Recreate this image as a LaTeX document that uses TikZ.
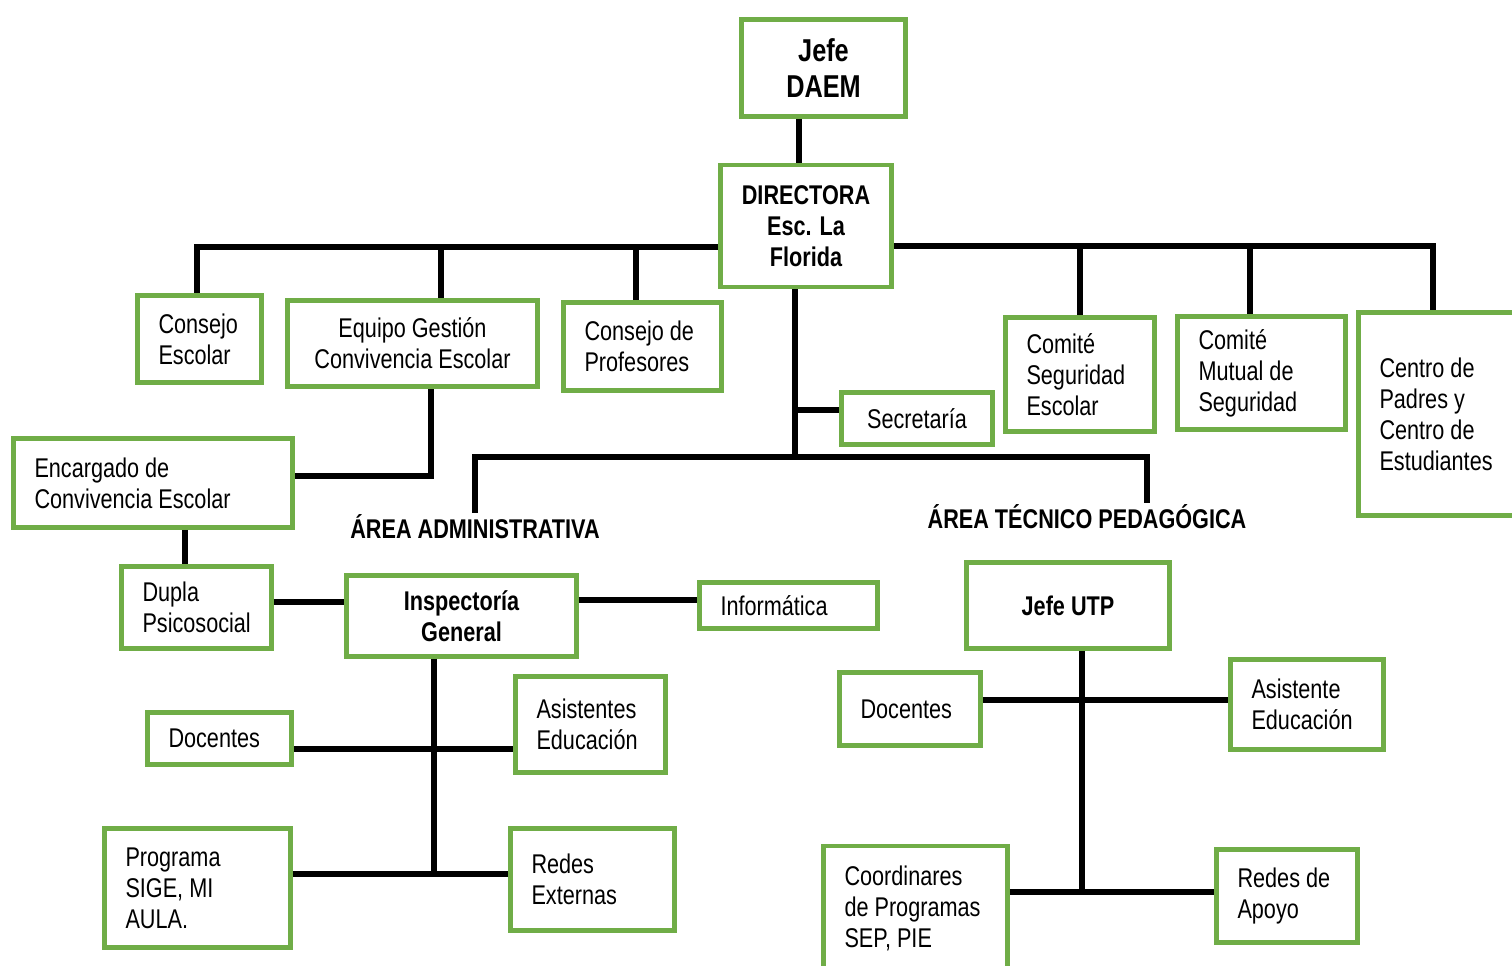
\documentclass[tikz,border=0pt]{standalone}
\usepackage{fontspec}
\setmainfont{Liberation Sans}[FakeStretch=0.8]
\usepackage{tikz}
\definecolor{boxgreen}{HTML}{70AD47}
\hyphenpenalty=10000

\tikzset{
  orgbox/.style={draw=boxgreen, line width=2.8pt, fill=white, inner sep=0pt,
    font=\fontsize{15.4}{17.6}\selectfont},
  leftbox/.style={orgbox, align=flush left},
  midbox/.style={orgbox, align=flush center},
  boldbox/.style={midbox, font=\bfseries\fontsize{15.4}{17.6}\selectfont},
  area/.style={inner sep=1pt, font=\bfseries\fontsize{15.4}{17.6}\selectfont},
  link/.style={line width=2.9pt}
}

\begin{document}
\begin{tikzpicture}[x=0.02cm, y=-0.02cm]
      \useasboundingbox (0,0) rectangle (1512,965);
      \clip (0,0) rectangle (1512,965);
      \fill[white] (0,0) rectangle (1512,965);

      % cabeza
      \node[boldbox, font=\bfseries\fontsize{18}{21}\selectfont, minimum width=3.28cm, minimum height=1.94cm] (daem) at (823.5,68) {Jefe\\DAEM};
      \node[boldbox, minimum width=3.42cm, minimum height=2.44cm] (directora) at (806,226) {DIRECTORA\\Esc. La\\Florida};

      % primera fila
      \node[leftbox, minimum width=2.48cm, minimum height=1.74cm, text width=1.64cm] (cescolar) at (199.5,339) {Consejo\\Escolar};
      \node[midbox, minimum width=5cm, minimum height=1.72cm] (equipo) at (412.5,343.5) {Equipo Gestión\\Convivencia Escolar};
      \node[leftbox, minimum width=3.16cm, minimum height=1.76cm, text width=2.32cm] (cprof) at (642.5,346.5) {Consejo de\\Profesores};
      \node[leftbox, minimum width=2.98cm, minimum height=2.28cm, text width=2.14cm] (cseg) at (1080,374.5) {Comité\\Seguridad\\Escolar};
      \node[leftbox, minimum width=3.36cm, minimum height=2.26cm, text width=2.52cm] (cmutual) at (1261.5,373) {Comité\\Mutual de\\Seguridad};
      \node[leftbox, minimum width=3.38cm, minimum height=4.06cm, text width=2.54cm] (cpadres) at (1443,414) {Centro de\\Padres y\\Centro de\\Estudiantes};
      \node[midbox, minimum width=3.02cm, minimum height=1.04cm] (secretaria) at (917,418.5) {Secretaría};

      % area administrativa
      \node[leftbox, minimum width=5.58cm, minimum height=1.78cm, text width=4.74cm] (encargado) at (153,483) {Encargado de\\Convivencia Escolar};
      \node[leftbox, minimum width=3cm, minimum height=1.64cm, text width=2.16cm] (dupla) at (196.5,607.5) {Dupla\\Psicosocial};
      \node[boldbox, minimum width=4.6cm, minimum height=1.62cm] (inspectoria) at (461.5,616) {Inspectoría\\General};
      \node[leftbox, minimum width=3.56cm, minimum height=0.92cm, text width=2.72cm] (informatica) at (788.5,605.5) {Informática};
      \node[leftbox, minimum width=2.88cm, minimum height=1.04cm, text width=2.04cm] (docentesA) at (219.5,738.5) {Docentes};
      \node[leftbox, minimum width=3cm, minimum height=1.92cm, text width=2.16cm] (asistentesA) at (590.5,724.5) {Asistentes\\Educación};
      \node[leftbox, minimum width=3.72cm, minimum height=2.38cm, text width=2.88cm] (programa) at (197.5,888) {Programa\\SIGE, MI\\AULA.};
      \node[leftbox, minimum width=3.28cm, minimum height=2.04cm, text width=2.44cm] (redesext) at (592.5,879.5) {Redes\\Externas};

      % area tecnico pedagogica
      \node[boldbox, minimum width=4.06cm, minimum height=1.72cm] (jefeutp) at (1068,605.5) {Jefe UTP};
      \node[leftbox, minimum width=2.82cm, minimum height=1.46cm, text width=1.98cm] (docentesB) at (910,709) {Docentes};
      \node[leftbox, minimum width=3.06cm, minimum height=1.8cm, text width=2.22cm] (asistenteB) at (1307,704.5) {Asistente\\Educación};
      \node[leftbox, minimum width=3.68cm, minimum height=2.48cm, text width=2.84cm] (coordinares) at (915.5,908) {Coordinares\\de Programas\\SEP, PIE};
      \node[leftbox, minimum width=2.82cm, minimum height=1.86cm, text width=1.98cm] (redesapoyo) at (1287,896) {Redes de\\Apoyo};

      \node[area] (areaadm) at (475,527) {ÁREA ADMINISTRATIVA};
      \node[area] (areatec) at (1087,517) {ÁREA TÉCNICO PEDAGÓGICA};

      % lineas
      \draw[link] (daem.south -| 799,0) -- (directora.north -| 799,0);
      \draw[link] (directora.west |- 0,247) -- (197,247) -- (cescolar.north -| 197,0);
      \draw[link] (441,247) -- (equipo.north -| 441,0);
      \draw[link] (636,247) -- (cprof.north -| 636,0);
      \draw[link] (directora.east |- 0,246) -- (1433,246) -- (cpadres.north -| 1433,0);
      \draw[link] (1080,246) -- (cseg.north);
      \draw[link] (1250,246) -- (cmutual.north -| 1250,0);
      \draw[link] (directora.south -| 795,0) -- (795,459);
      \draw[link] (795,410) -- (secretaria.west |- 0,410);
      \draw[link] (areaadm.north -| 475,0) -- (475,457) -- (1147,457) -- (areatec.north -| 1147,0);
      \draw[link] (encargado.east |- 0,476) -- (431,476) -- (equipo.south -| 431,0);
      \draw[link] (encargado.south -| 185,0) -- (dupla.north -| 185,0);
      \draw[link] (dupla.east |- 0,602) -- (inspectoria.west |- 0,602);
      \draw[link] (inspectoria.east |- 0,600) -- (informatica.west |- 0,600);
      \draw[link] (inspectoria.south -| 434,0) -- (434,874);
      \draw[link] (docentesA.east |- 0,749) -- (asistentesA.west |- 0,749);
      \draw[link] (programa.east |- 0,874) -- (redesext.west |- 0,874);
      \draw[link] (jefeutp.south -| 1082,0) -- (1082,892);
      \draw[link] (docentesB.east |- 0,700) -- (asistenteB.west |- 0,700);
      \draw[link] (coordinares.east |- 0,892) -- (redesapoyo.west |- 0,892);
\end{tikzpicture}
\end{document}
